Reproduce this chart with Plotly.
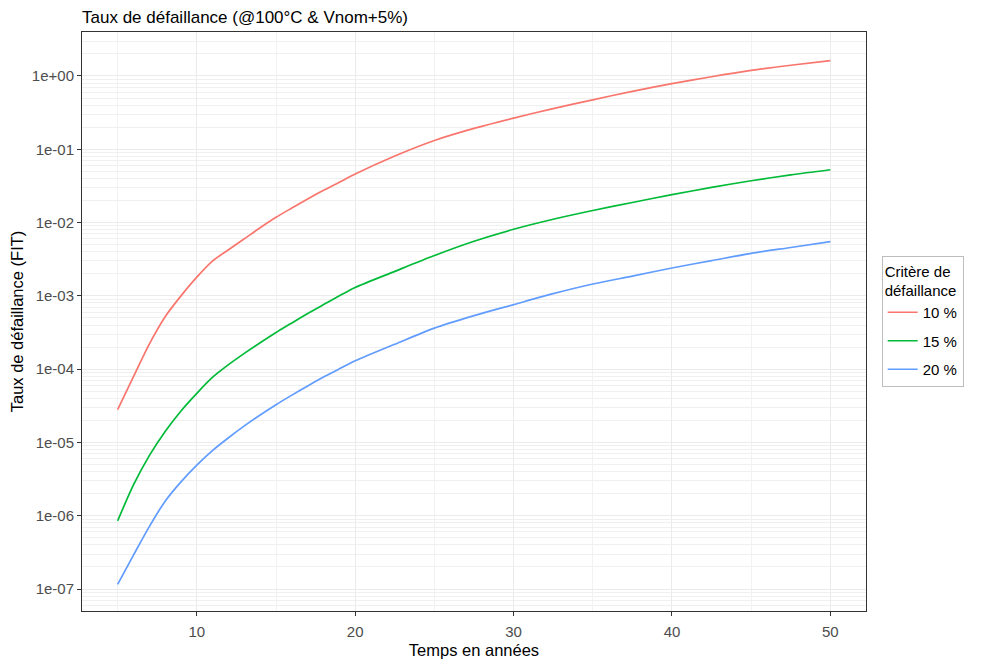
import plotly.graph_objects as go

years = [5, 6, 7, 8, 9, 10, 11, 12, 13, 14, 15, 16, 17, 18, 19, 20,
         22.5, 25, 27.5, 30, 32.5, 35, 37.5, 40, 42.5, 45, 47.5, 50]

crit_10 = [2.8e-5, 7.9e-5, 2.2e-4, 5.2e-4, 1.0e-3, 1.8e-3, 3.0e-3, 4.25e-3, 6.0e-3, 8.5e-3,
           1.18e-2, 1.58e-2, 2.1e-2, 2.75e-2, 3.55e-2, 4.6e-2,
           8.1e-2, 0.132, 0.193, 0.266, 0.359, 0.473, 0.617, 0.785, 0.977, 1.19, 1.40, 1.62]
crit_15 = [8.5e-7, 2.63e-6, 6.6e-6, 1.41e-5, 2.69e-5, 4.68e-5, 7.76e-5, 1.15e-4, 1.64e-4, 2.29e-4,
           3.16e-4, 4.27e-4, 5.75e-4, 7.6e-4, 1.0e-3, 1.3e-3,
           2.16e-3, 3.55e-3, 5.56e-3, 8.1e-3, 1.11e-2, 1.46e-2, 1.88e-2, 2.4e-2, 3.02e-2, 3.72e-2, 4.47e-2, 5.25e-2]
crit_20 = [1.16e-7, 2.9e-7, 7.1e-7, 1.58e-6, 2.9e-6, 4.9e-6, 7.8e-6, 1.16e-5, 1.68e-5, 2.37e-5,
           3.27e-5, 4.42e-5, 5.9e-5, 7.8e-5, 1.01e-4, 1.3e-4,
           2.19e-4, 3.63e-4, 5.37e-4, 7.59e-4, 1.07e-3, 1.45e-3, 1.86e-3, 2.4e-3, 3.02e-3, 3.8e-3, 4.57e-3, 5.5e-3]

series_names = ["10 %", "15 %", "20 %"]
series_colors = ["#F8766D", "#00BA38", "#619CFF"]

y_tickvals = [1e-7, 1e-6, 1e-5, 1e-4, 1e-3, 1e-2, 1e-1, 1e0]
y_ticktext = ["1e-07", "1e-06", "1e-05", "1e-04", "1e-03", "1e-02", "1e-01", "1e+00"]
x_tickvals = [10, 20, 30, 40, 50]
x_minor = [5, 15, 25, 35, 45]

y_minor = []
for e in range(-8, 1):
    for m in range(2, 10):
        y_minor.append(m * 10.0 ** e)

FONT = "Liberation Sans, Arial, sans-serif"

fig = go.Figure()
for name, vals, col in zip(series_names, [crit_10, crit_15, crit_20], series_colors):
    fig.add_trace(go.Scatter(x=years, y=vals, mode="lines", name=name, legendgroup=name,
                             line=dict(color=col, width=1.7, shape="spline", smoothing=0.8)))

fig.update_layout(
    width=981, height=659,
    paper_bgcolor="white", plot_bgcolor="white",
    margin=dict(l=82, r=115, t=32, b=48),
    font=dict(family=FONT, size=15, color="black"),
    title=dict(text="Taux de défaillance (@100°C & Vnom+5%)", x=82 / 981, xanchor="left",
               xref="container", y=1 - 17 / 659, yanchor="middle", yref="container",
               font=dict(size=17, color="black", family=FONT)),
    legend=dict(title=dict(text="Critère de<br>défaillance", font=dict(size=15)),
                x=1.02, xanchor="left", y=0.5, yanchor="middle",
                bordercolor="#BDBDBD", borderwidth=1, bgcolor="white",
                font=dict(size=15), itemwidth=30, tracegroupgap=6),
    showlegend=True,
)

fig.update_xaxes(
    range=[2.75, 52.25], tickmode="array", tickvals=x_tickvals,
    ticks="outside", ticklen=4, tickcolor="#333333", tickwidth=1,
    tickfont=dict(size=15, color="#4D4D4D"), ticklabelstandoff=3,
    showgrid=True, gridcolor="#EBEBEB", gridwidth=1,
    minor=dict(tickmode="array", tickvals=x_minor, showgrid=True, gridcolor="#F2F2F2", gridwidth=0.7, ticks=""),
    showline=True, linecolor="#333333", linewidth=1, mirror=True, zeroline=False,
    automargin=False,
    title=dict(text="Temps en années", font=dict(size=16.5, color="black"), standoff=6),
)
fig.update_yaxes(
    type="log", range=[-7.30, 0.60], tickmode="array", tickvals=y_tickvals, ticktext=y_ticktext,
    ticks="outside", ticklen=4, tickcolor="#333333", tickwidth=1,
    tickfont=dict(size=15, color="#4D4D4D"),
    showgrid=True, gridcolor="#EBEBEB", gridwidth=1,
    minor=dict(tickmode="array", tickvals=y_minor, showgrid=True, gridcolor="#F0F0F0", gridwidth=0.8, ticks=""),
    showline=True, linecolor="#333333", linewidth=1, mirror=True, zeroline=False,
    title=dict(text="Taux de défaillance (FIT)", font=dict(size=16.5, color="black"), standoff=4),
)

fig.write_html("out.html", config={"displayModeBar": False},
               post_script="document.body.style.margin='0px';")
